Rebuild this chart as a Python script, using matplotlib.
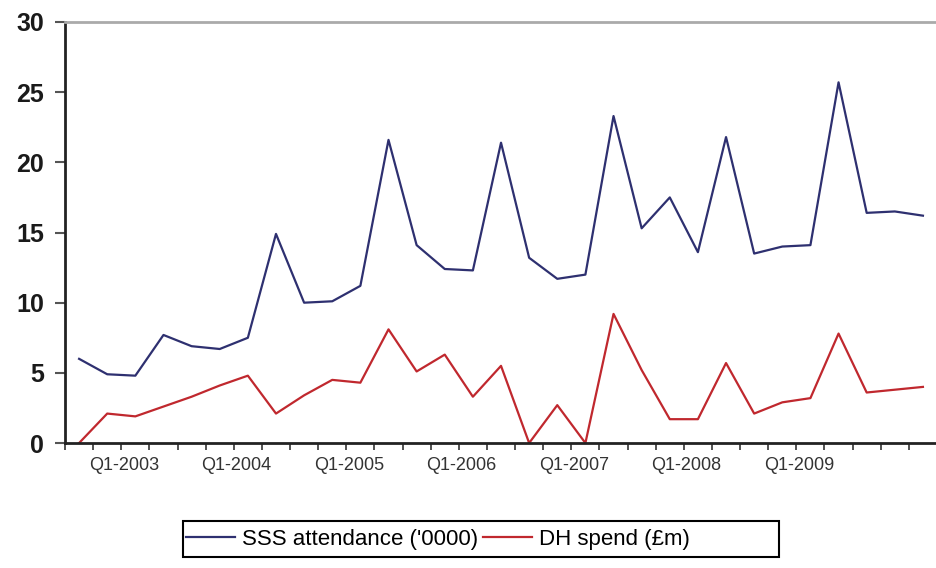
import matplotlib.pyplot as plt
from matplotlib.patches import Rectangle
import numpy as np

plt.rcParams.update({'font.family': ['Liberation Sans', 'DejaVu Sans']})

# quarters Q3-2002 .. Q1-2010
quarters = ['Q%d-%d' % (q, y) for y in range(2002, 2011) for q in range(1, 5)][2:33]

sss_attendance = [6.0, 4.9, 4.8, 7.7, 6.9, 6.7, 7.5, 14.9, 10.0, 10.1, 11.2,
                  21.6, 14.1, 12.4, 12.3, 21.4, 13.2, 11.7, 12.0, 23.3, 15.3,
                  17.5, 13.6, 21.8, 13.5, 14.0, 14.1, 25.7, 16.4, 16.5, 16.2]
dh_spend = [0.0, 2.1, 1.9, 2.6, 3.3, 4.1, 4.8, 2.1, 3.4, 4.5, 4.3,
            8.1, 5.1, 6.3, 3.3, 5.5, 0.0, 2.7, 0.0, 9.2, 5.2,
            1.7, 1.7, 5.7, 2.1, 2.9, 3.2, 7.8, 3.6, 3.8, 4.0]

x = np.arange(len(quarters))

fig = plt.figure(figsize=(9.37, 5.68), dpi=100)
ax = fig.add_axes([0.0694, 0.22, 0.9306, 0.7413])

ax.plot(x, sss_attendance, color='#2e3070', lw=1.6, label="SSS attendance ('0000)")
ax.plot(x, dh_spend, color='#c0282e', lw=1.6, label='DH spend (£m)')

ax.set_xlim(-0.5, 30.25)
ax.set_ylim(0, 30)
ax.set_yticks(np.arange(0, 31, 5))
ax.tick_params(axis='y', labelsize=18, length=7, width=1.5, color='#555555', pad=8)
for t in ax.get_yticklabels():
    t.set_fontweight('bold')
    t.set_color('#1a1a1a')

# category boundaries as minor ticks, Q1 labels
ax.set_xticks(np.arange(-0.5, 31, 1), minor=True)
q1 = [i for i, q in enumerate(quarters) if q.startswith('Q1') and i < 30]
ax.set_xticks([i - 0.4 for i in q1])
ax.set_xticklabels([quarters[i] for i in q1])
ax.tick_params(axis='x', which='major', length=0, labelsize=13, labelcolor='#333333', pad=10)
ax.tick_params(axis='x', which='minor', length=5, width=1.2, color='#333333')

for s in ['left', 'bottom']:
    ax.spines[s].set_linewidth(2)
    ax.spines[s].set_color('#222222')
ax.spines['top'].set_color('#aaaaaa')
ax.spines['top'].set_linewidth(2)
ax.spines['right'].set_visible(False)

# legend box (Excel style, wider than its entries)
fig.patches.append(Rectangle((183 / 937, 1 - 557 / 568), 596 / 937, 36 / 568,
                             transform=fig.transFigure, fill=False,
                             edgecolor='black', lw=1.5))
fig.legend(loc='center left', bbox_to_anchor=(186 / 937, 1 - 539 / 568), ncol=2,
           fontsize=16, frameon=False, handlelength=2.2, columnspacing=0.25,
           handletextpad=0.3, borderpad=0, borderaxespad=0)

fig.savefig('out.png', dpi=100)
